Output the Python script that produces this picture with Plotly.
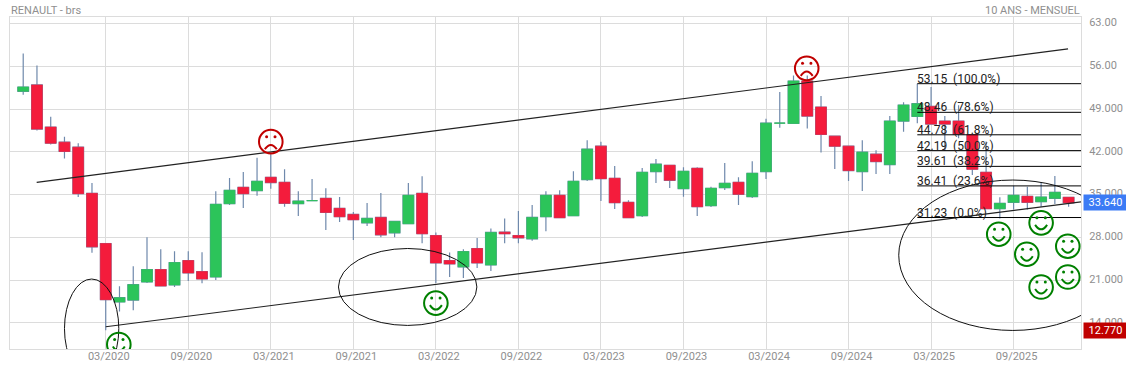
import plotly.graph_objects as go

# Monthly candles, 09/2019 to 01/2026
idx = list(range(77))
opens = [51.9,52.94,46.04,43.57,42.75,35.19,26.98,17.4,17.72,20.68,22.71,20.19,24.19,22.38,21.5,33.5,36.18,35.63,37.82,37,
33.5,34.0,34.37,32.73,31.74,30.37,31.25,28.73,30.21,35.19,28.29,24.19,23.15,26.16,23.47,28.84,28.29,27.75,31.36,34.87,
31.52,37.44,42.92,37.66,33.72,31.52,38.75,39.79,35.96,39.3,33.17,36.12,37,34.65,38.75,46.69,46.64,53.59,49.32,44.56,
42.92,38.75,41.6,39.9,47.02,47.79,49.43,47.02,47.02,44.78,38.64,32.67,33.72,34.7,33.82,34.37,34.54]
closes = [52.61,45.71,43.41,42.04,35.14,26.43,17.78,18.11,20.24,22.71,20.02,23.86,22.16,21.17,33.39,35.69,35.14,37.17,36.95,33.55,
33.93,34.0,32.07,31.36,30.87,31.09,28.4,30.59,34.87,28.57,23.8,23.64,25.66,23.8,28.79,28.57,27.91,31.25,34.87,31.2,
37.17,42.42,37.6,33.66,31.2,38.64,39.96,37.33,38.81,33,36.02,36.84,35.03,38.48,46.69,46.69,53.59,47.84,44.83,42.92,
38.92,41.93,40.4,47.02,49.65,49.87,46.53,46.53,44.89,39.14,32.67,33.55,34.87,33.72,34.59,35.36,33.64]
highs = [58.08,56.11,47.73,44.45,43.41,36.89,26.98,19.97,23.26,28.02,26.05,25.72,25.72,25.56,35.52,37.71,38.7,41,41.6,39.14,
35.52,37.55,36.02,34.59,32.13,33.61,35.25,30.59,36.89,37.99,28.79,25.5,26.05,27.86,29.44,31.09,32.29,33.28,35.52,35.69,
38.81,43.9,43.63,39.68,34.04,39.36,40.83,39.79,39.47,39.47,36.29,40.18,37.82,40.45,47.41,51.79,54.47,54.47,51.13,44.67,
43.03,43.9,42.26,47.84,50.09,53.15,52.61,47.84,49.6,44.78,43.68,34.54,36.45,36.29,36.95,38.04,34.54]
lows = [51.35,45.49,43.19,40.89,34.59,25.45,12.77,15.86,16.03,20.52,20.02,19.86,20.85,20.46,21.01,33.28,32.78,34.81,35.96,33,
31.47,33.93,29.17,30.48,27.53,29.83,28.02,28.02,30.21,27.03,20.52,21.5,21.34,22.98,22.49,27.03,27.03,27.42,29,31.2,
31.52,37.22,33.93,32.62,31.2,31.31,36.89,36.07,34.65,31.47,32.95,35.74,33.28,34.43,37.55,45.93,46.64,45.82,41.88,39.19,
37.22,35.58,38.37,38.37,45.27,46.69,46.53,42.15,44.23,38.2,32.67,31.09,32.56,32.56,33,33.44,33]
body_highs = [max(o, c) for o, c in zip(opens, closes)]
body_lows = [min(o, c) for o, c in zip(opens, closes)]

month_ticks = [6,12,18,24,30,36,42,48,54,60,66,72]
month_labels = ["03/2020","09/2020","03/2021","09/2021","03/2022","09/2022","03/2023","09/2023","03/2024","09/2024","03/2025","09/2025"]
price_ticks = [63,56,49,42,35,28,21,14]
price_labels = ["63.00","56.00","49.000","42.000","35.000","28.000","21.000","14.000"]

upper_x, upper_y = [0.98,75.96], [37.0,58.84]
lower_x, lower_y = [6.0,76.9], [13.34,33.81]

fib_values = [53.15,48.46,44.78,42.19,39.61,36.41,31.23]
fib_pcts = ["100.0%","78.6%","61.8%","50.0%","38.2%","23.6%","0.0%"]
fib_start, fib_end = 65.0, 76.9

# x0, x1, y0, y1 of the hand-drawn ellipses
ellipses = [(3.0,6.95,4.93,21.16),(22.92,32.98,13.56,26.16),(63.65,80.23,12.74,37.37)]
smile_x = [6.95,30.0,70.92,74.0,72.96,75.94,75.94,74.0]
smile_y = [10.44,17.22,28.5,30.36,25.22,26.53,21.49,19.85]
frown_x = [18.0,56.96]
frown_y = [43.66,55.66]

last_price, low_price = "33.640", "12.770"

WICK, RED, GREEN = "#6f89ac", "#f41c3c", "#2cc45a"
GRID, TXT = "#dcdcdc", "#8f8f8f"
FONT = "Roboto"

fig = go.Figure()
fig.add_trace(go.Candlestick(x=idx, open=opens, high=highs, low=lows, close=closes,
    increasing=dict(line=dict(color=WICK, width=1.2), fillcolor=GREEN),
    decreasing=dict(line=dict(color=WICK, width=1.2), fillcolor=RED), showlegend=False))
fig.add_trace(go.Candlestick(x=idx, open=opens, high=body_highs, low=body_lows, close=closes,
    increasing=dict(line=dict(color=GREEN, width=0.6), fillcolor=GREEN),
    decreasing=dict(line=dict(color=RED, width=0.6), fillcolor=RED), showlegend=False))

for xs, ys in [(upper_x, upper_y), (lower_x, lower_y)]:
    fig.add_trace(go.Scatter(x=xs, y=ys, mode="lines", line=dict(color="#222222", width=1.2),
                             showlegend=False, hoverinfo="skip"))
for v in fib_values:
    fig.add_trace(go.Scatter(x=[fib_start, fib_end], y=[v, v], mode="lines",
                             line=dict(color="#000000", width=1), showlegend=False, hoverinfo="skip"))

shapes = []
for x0, x1, y0, y1 in ellipses:
    shapes.append(dict(type="circle", xref="x", yref="y", x0=x0, x1=x1, y0=y0, y1=y1,
                       line=dict(color="#111111", width=1), layer="above"))

def face(xv, yv, color, mouth):
    common = dict(xref="x", yref="y", xsizemode="pixel", ysizemode="pixel",
                  xanchor=xv, yanchor=yv, layer="above")
    out = [dict(type="circle", x0=-11.8, x1=11.8, y0=-11.8, y1=11.8,
                line=dict(color=color, width=2), **common)]
    for ex in (-4.2, 4.2):
        out.append(dict(type="circle", x0=ex-1.5, x1=ex+1.5, y0=3.5, y1=6.5,
                        fillcolor=color, line=dict(color=color, width=0), **common))
    out.append(dict(type="path", path=mouth, line=dict(color=color, width=2), **common))
    return out

for xv, yv in zip(smile_x, smile_y):
    shapes += face(xv, yv, "#008000", "M -6 -2 Q 0 -11 6 -2")
for xv, yv in zip(frown_x, frown_y):
    shapes += face(xv, yv, "#c00000", "M -6 -7.5 Q 0 1 6 -7.5")

annotations = [
    dict(text="RENAULT - brs", xref="paper", yref="paper", x=0, y=1, xanchor="left", yanchor="bottom",
         yshift=-1, showarrow=False, font=dict(family=FONT, size=11, color=TXT), borderpad=0),
    dict(text="10 ANS - MENSUEL", xref="paper", yref="paper", x=1, y=1, xanchor="right", yanchor="bottom",
         yshift=-1, showarrow=False, font=dict(family=FONT, size=11, color=TXT), borderpad=0),
    dict(text=last_price, xref="paper", yref="y", x=1, xshift=2, y=33.64, xanchor="left", yanchor="middle",
         showarrow=False, bgcolor="#3b7bf5", width=43, height=15, borderpad=0, align="center",
         font=dict(family=FONT, size=11, color="#ffffff")),
    dict(text=low_price, xref="paper", yref="y", x=1, xshift=2, y=12.77, xanchor="left", yanchor="middle",
         showarrow=False, bgcolor="#c00000", width=43, height=15, borderpad=0, align="center",
         font=dict(family=FONT, size=11, color="#ffffff")),
]
for v, p in zip(fib_values, fib_pcts):
    annotations.append(dict(text=f"{v:.2f}\u00a0\u00a0({p})", xref="x", yref="y", x=fib_start, y=v,
                            xanchor="left", yanchor="bottom", xshift=-1, yshift=-3, showarrow=False, borderpad=0,
                            font=dict(family=FONT, size=12, color="#222222")))

fig.update_layout(
    width=1126, height=369, autosize=False,
    margin=dict(l=10, r=45, t=17, b=20, pad=0),
    paper_bgcolor="#ffffff", plot_bgcolor="#ffffff",
    boxmode="overlay", boxgap=0.22, boxgroupgap=0,
    showlegend=False, shapes=shapes, annotations=annotations,
    font=dict(family=FONT, size=11, color=TXT),
    xaxis=dict(range=[-0.96, 76.9], tickmode="array", tickvals=month_ticks, ticktext=month_labels,
               automargin=False,
               showgrid=True, gridcolor=GRID, gridwidth=1, zeroline=False, showline=True, linecolor=GRID,
               mirror=True, ticks="", rangeslider=dict(visible=False), ticklabelshift=3, ticklabelstandoff=-3,
               tickfont=dict(family=FONT, size=11, color=TXT)),
    yaxis=dict(range=[9.7, 64.07], side="right", tickmode="array", tickvals=price_ticks, ticktext=price_labels,
               automargin=False,
               showgrid=True, gridcolor=GRID, gridwidth=1, zeroline=False, showline=True, linecolor=GRID,
               mirror=True, ticks="", ticklabelstandoff=5, ticklabelshift=-1,
               tickfont=dict(family=FONT, size=11, color=TXT)),
)
fig.write_html("out.html", config=dict(displayModeBar=False),
               post_script="document.body.style.margin='0';")
